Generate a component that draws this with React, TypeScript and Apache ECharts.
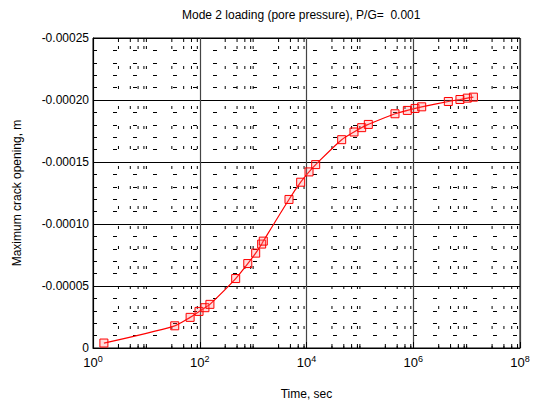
import React, { useEffect, useRef } from "react";
import * as echarts from "echarts";

const titleText = "Mode 2 loading (pore pressure), P/G=  0.001";
const xName = "Time, sec";
const yName = "Maximum crack opening, m";

const times = [1.6, 34, 66, 97, 125, 155, 471, 794, 1117, 1445, 1550, 4700, 7780, 11150, 14860, 45600, 77600, 108000, 144000, 455000, 775000, 1080000, 1440000, 4540000, 7500000, 10300000, 13400000];
const openings = [-0.000004, -0.0000179, -0.0000247, -0.0000295, -0.0000325, -0.0000352, -0.000056, -0.0000681, -0.0000765, -0.0000838, -0.0000862, -0.0001198, -0.0001337, -0.000142, -0.0001479, -0.000168, -0.0001742, -0.0001777, -0.0001803, -0.0001889, -0.0001916, -0.0001932, -0.0001945, -0.0001988, -0.0002004, -0.0002015, -0.0002023];

const minorTimes = [
  3, 5, 7, 9, 10,
  30, 50, 70, 90,
  300, 500, 700, 900, 1000,
  3000, 5000, 7000, 9000,
  30000, 50000, 70000, 90000, 100000,
  300000, 500000, 700000, 900000,
  3000000, 5000000, 7000000, 9000000, 10000000,
  30000000, 50000000, 70000000, 90000000,
];

const xMin = 1;
const xMax = 1e8;
const yMin = -0.00025;
const yMax = 0;
const yInterval = 0.00005;

const FONT = "Liberation Sans, Arial, sans-serif";

export default function App() {
  const ref = useRef<HTMLDivElement>(null);
  useEffect(() => {
    if (!ref.current) return;
    const chart = echarts.init(ref.current, undefined, { renderer: "svg" });
    chart.setOption({
      animation: false,
      backgroundColor: "#fff",
      title: {
        text: titleText,
        left: 177,
        top: 4,
        textStyle: { fontSize: 12, fontWeight: "normal", color: "#000", fontFamily: FONT },
      },
      grid: {
        left: 93,
        right: 13,
        top: 38,
        bottom: 56,
        show: true,
        borderColor: "#000",
        borderWidth: 1,
        backgroundColor: "transparent",
      },
      xAxis: {
        type: "log",
        logBase: 100,
        min: xMin,
        max: xMax,
        splitNumber: 4,
        name: xName,
        nameLocation: "middle",
        nameGap: 40,
        nameTextStyle: { fontSize: 12, color: "#000", fontFamily: FONT },
        axisLine: { show: true, lineStyle: { color: "#000", width: 1 } },
        axisTick: { show: true, inside: true, length: 6, lineStyle: { color: "#000" } },
        splitLine: { show: true, lineStyle: { color: "#444", width: 1.2 } },
        axisLabel: {
          color: "#000",
          fontFamily: FONT,
          margin: 6,
          formatter: (v: number) => `{b|10}{s|${Math.round(Math.log10(v))}}`,
          rich: {
            b: { fontSize: 13, fontFamily: FONT, color: "#000" },
            s: { fontSize: 9, fontFamily: FONT, color: "#000", verticalAlign: "top", padding: [0, 0, 8, 0] },
          },
        },
      },
      yAxis: {
        type: "value",
        inverse: true,
        min: yMin,
        max: yMax,
        interval: yInterval,
        name: yName,
        nameLocation: "middle",
        nameGap: 70,
        nameRotate: 90,
        nameTextStyle: { fontSize: 12, color: "#000", fontFamily: FONT },
        axisLine: { show: true, lineStyle: { color: "#000", width: 1 } },
        axisTick: { show: true, inside: true, length: 6, lineStyle: { color: "#000" } },
        minorTick: { show: true, splitNumber: 5, length: 4, lineStyle: { color: "#000" } },
        splitLine: { show: true, lineStyle: { color: "#000", width: 1 } },
        minorSplitLine: { show: true, lineStyle: { color: "#000", width: 1, type: [4, 16] } },
        axisLabel: {
          color: "#000",
          fontSize: 12,
          fontFamily: FONT,
          margin: 4,
          formatter: (v: number) => (Math.abs(v) < 1e-12 ? "0" : v.toFixed(5)),
        },
      },
      series: [
        {
          type: "custom",
          silent: true,
          z: 1,
          data: minorTimes.map((t) => [t, 0]),
          renderItem: (params: any, api: any) => {
            const x = api.value(0);
            const top = api.coord([x, yMin]);
            const bot = api.coord([x, yMax]);
            return {
              type: "group",
              children: [
                {
                  type: "line",
                  shape: { x1: top[0], y1: top[1] + 8, x2: bot[0], y2: bot[1] },
                  style: { stroke: "#000", lineWidth: 1, lineDash: [3, 17] },
                },
                {
                  type: "line",
                  shape: { x1: bot[0], y1: bot[1], x2: bot[0], y2: bot[1] - 4 },
                  style: { stroke: "#000", lineWidth: 1 },
                },
                {
                  type: "line",
                  shape: { x1: top[0], y1: top[1], x2: top[0], y2: top[1] + 4 },
                  style: { stroke: "#000", lineWidth: 1 },
                },
              ],
            };
          },
        },
        {
          type: "line",
          z: 5,
          data: times.map((t, i) => [t, openings[i]]),
          smooth: 0.3,
          symbol: "rect",
          symbolSize: 8,
          showAllSymbol: true,
          lineStyle: { color: "#ff0000", width: 1.2 },
          itemStyle: { color: "rgba(255,120,120,0.25)", borderColor: "#ff0000", borderWidth: 1 },
        },
      ],
    });
    return () => chart.dispose();
  }, []);
  return <div ref={ref} style={{ width: 533, height: 405, position: "absolute", left: 0, top: 0 }} />;
}
